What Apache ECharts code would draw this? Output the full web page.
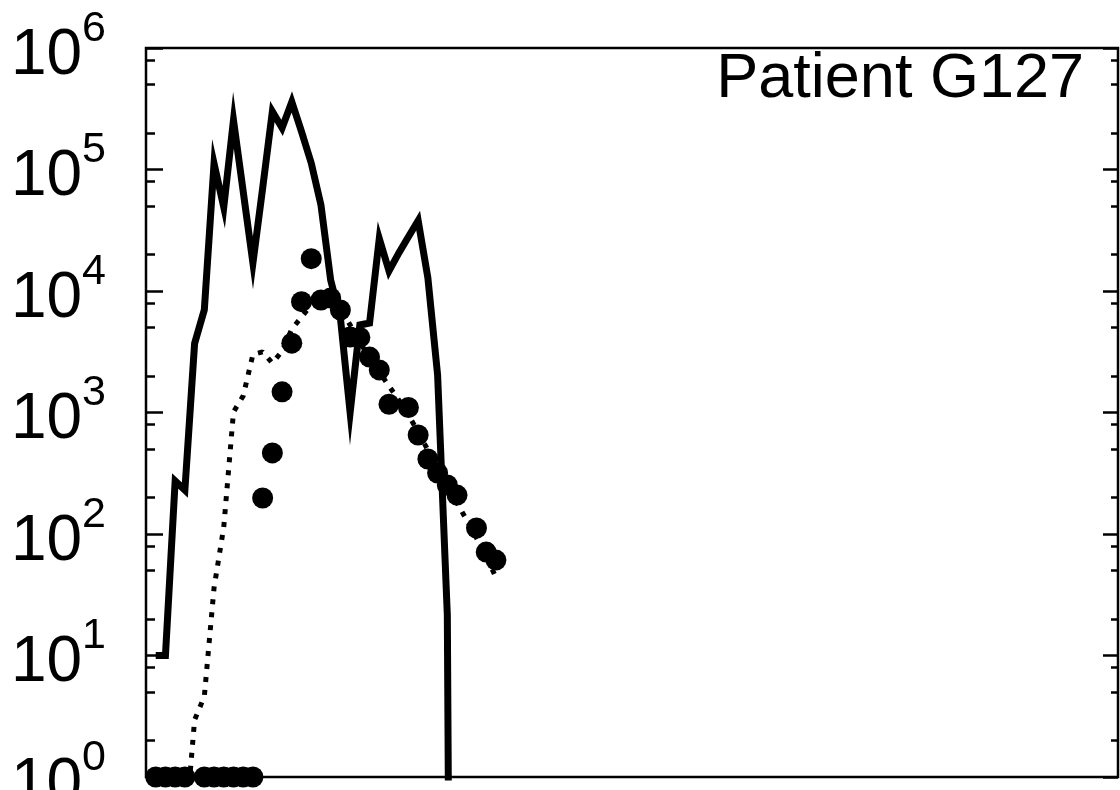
<!DOCTYPE html>
<html>
<head>
<meta charset="utf-8">
<title>Patient G127</title>
<script src="https://cdn.jsdelivr.net/npm/echarts@6/dist/echarts.min.js"></script>
<style>
  html, body { margin: 0; padding: 0; background: #fff; }
  #chart { width: 1120px; height: 790px; }
</style>
</head>
<body>
<div id="chart"></div>
<script>
// day index of every sample
const days = [1, 2, 3, 4, 5, 6, 7, 8, 9, 10, 11, 12, 13, 14, 15, 16, 17, 18,
  19, 20, 21, 22, 23, 24, 25, 26, 27, 28, 29, 30, 31, 32, 33, 34, 35, 36];

// solid curve (drops to ~0 after day 31)
const solidValues = [10, 10, 273, 230, 3700, 7000, 112000, 49000, 255000, 66000,
  17000, 70000, 300000, 220000, 360000, 205000, 113000, 51000, 12300, 6000,
  1000, 5250, 5450, 27000, 14600, 20500, 28000, 38000, 12800, 2040,
  21.5, 1e-12];

// dotted model curve, starts at day 4
const dottedDays = days.slice(3);
const dottedValues = [0.33, 2.95, 4.6, 36, 114, 1010, 1370, 3000, 3150, 2550,
  3200, 4860, 6100, 7670, 8930, 8750, 7240, 5250, 3800, 2810,
  2150, 1650, 1270, 955, 690, 491, 349, 248, 180, 130,
  93, 65, 44];

// measured points (null = no sample that day)
const dotValues = [1, 1, 1, 1, null, 1, 1, 1, 1, 1, 1, 198, 465, 1480, 3720,
  8170, 18450, 8430, 8760, 6980, 4180, 4150, 2860, 2240, 1170, null,
  1100, 653, 414, 318, 253, 209, null, 112, 71, 61];

const majorTicks = [1, 10, 100, 1e3, 1e4, 1e5, 1e6];
const minorTicks = [];
majorTicks.slice(0, -1).forEach(function (d) {
  [2, 5, 8].forEach(function (m) { minorTicks.push(m * d); });
});

function pairs(xs, ys) {
  const out = [];
  ys.forEach(function (v, i) {
    if (v !== null) out.push([xs[i], v]);
  });
  return out;
}

const font = 'Liberation Sans, Arial, sans-serif';

function yAxis(position, ticks, len, withLabels) {
  return {
    type: 'log',
    logBase: 10,
    min: 1,
    max: 1e6,
    position: position,
    axisLine: { show: false },
    splitLine: { show: false },
    minorTick: { show: false },
    axisTick: {
      show: true,
      inside: true,
      length: len,
      customValues: ticks,
      lineStyle: { color: '#000', width: 2.5 }
    },
    axisLabel: withLabels ? {
      show: true,
      customValues: majorTicks,
      margin: 40,
      showMinLabel: true,
      showMaxLabel: true,
      hideOverlap: false,
      formatter: function (v) {
        return '{b|10}{s|' + Math.round(Math.log10(v)) + '}';
      },
      rich: {
        // base "10" pushed down, exponent lifted up
        b: { fontSize: 64, fontFamily: font, color: '#000', lineHeight: 64, padding: [16, 0, 0, 0] },
        s: { fontSize: 43, fontFamily: font, color: '#000', lineHeight: 42, padding: [0, 0, 38, 0] }
      }
    } : { show: false }
  };
}

const chart = echarts.init(document.getElementById('chart'), null, { renderer: 'canvas' });

chart.setOption({
  backgroundColor: '#fff',
  animation: false,
  title: {
    text: 'Patient G127',
    right: 31,
    top: 43,
    textStyle: { fontSize: 63, fontWeight: 'normal', fontFamily: font, color: '#000' }
  },
  grid: {
    left: 146, right: 2, top: 48, bottom: 13,
    outerBoundsMode: 'none',
    containLabel: false,
    show: true,
    borderColor: '#000',
    borderWidth: 2.5,
    backgroundColor: 'transparent'
  },
  xAxis: {
    type: 'value',
    min: 0,
    max: 100,
    axisLine: { show: false },
    axisTick: { show: false },
    axisLabel: { show: false },
    splitLine: { show: false }
  },
  yAxis: [
    yAxis('left', majorTicks, 17, true),
    yAxis('left', minorTicks, 9, false),
    yAxis('right', majorTicks, 15, false),
    yAxis('right', minorTicks, 7, false)
  ],
  series: [
    {
      type: 'line',
      data: pairs(days.concat([32]), solidValues),
      symbol: 'none',
      lineStyle: { color: '#000', width: 7, join: 'miter', miterLimit: 12, cap: 'butt' },
      z: 2
    },
    {
      type: 'line',
      data: pairs(dottedDays, dottedValues),
      symbol: 'none',
      lineStyle: { color: '#000', width: 5, type: [5, 8], cap: 'butt' },
      z: 3
    },
    {
      type: 'scatter',
      data: pairs(days, dotValues),
      symbol: 'circle',
      symbolSize: 21,
      itemStyle: { color: '#000', opacity: 1 },
      clip: false,
      z: 4
    }
  ]
});
</script>
</body>
</html>
